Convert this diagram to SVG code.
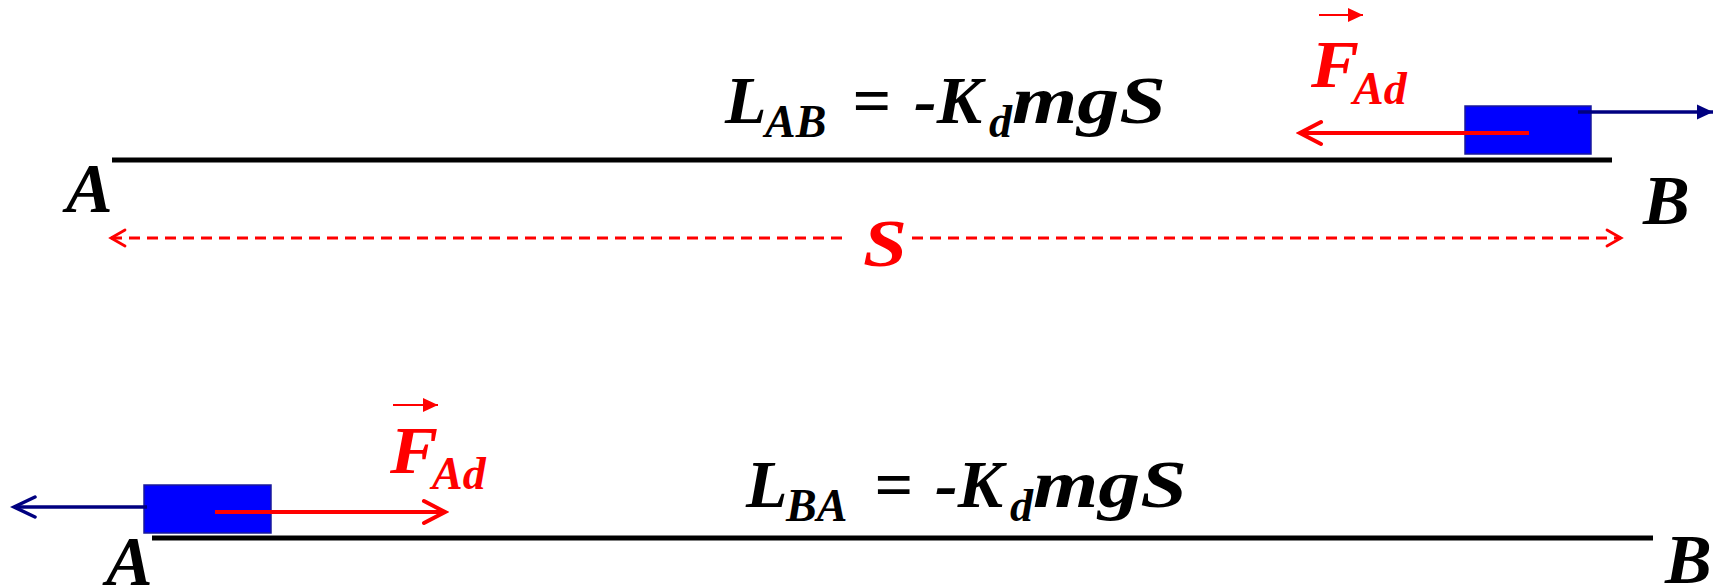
<svg xmlns="http://www.w3.org/2000/svg" width="1728" height="588" viewBox="0 0 1728 588">
<style>
.t{font-family:"Liberation Serif","Times New Roman",serif;font-weight:bold;font-style:italic}
.k{fill:#000}
.r{fill:#FF0000}
.big{font-size:68px}
.sub{font-size:46px}
.lab{font-size:70px}
.road{stroke:#000;stroke-width:5;fill:none}
.block{fill:#0000FF;stroke:#1a1a9a;stroke-width:1.5}
.red{stroke:#FF0000;stroke-width:4;fill:none}
.navy{stroke:#000080;stroke-width:3.5;fill:none}
.dash{stroke:#FF0000;stroke-width:2.8;stroke-dasharray:11 7;fill:none}
.vec{stroke:#FF0000;stroke-width:2;fill:none}
</style>
<defs>
<marker id="redOpen" viewBox="-26 -15 30 30" markerWidth="30" markerHeight="30" refX="0" refY="0" orient="auto" markerUnits="userSpaceOnUse">
<path d="M-21,-11 L0,0 L-21,11" fill="none" stroke="#FF0000" stroke-width="4" stroke-linecap="round"/>
</marker>
<marker id="dashOpen" viewBox="-20 -12 24 24" markerWidth="24" markerHeight="24" refX="0" refY="0" orient="auto" markerUnits="userSpaceOnUse">
<path d="M-14,-8 L0,0 L-14,8" fill="none" stroke="#FF0000" stroke-width="2.8" stroke-linecap="round"/>
</marker>
<marker id="navyFill" viewBox="-18 -10 20 20" markerWidth="20" markerHeight="20" refX="0" refY="0" orient="auto" markerUnits="userSpaceOnUse">
<path d="M-16,-7.5 L0,0 L-16,7.5 Z" fill="#000080"/>
</marker>
<marker id="navyOpen" viewBox="-26 -14 30 28" markerWidth="30" markerHeight="28" refX="0" refY="0" orient="auto" markerUnits="userSpaceOnUse">
<path d="M-21,-10 L0,0 L-21,10" fill="none" stroke="#000080" stroke-width="3.5" stroke-linecap="round"/>
</marker>
<marker id="vecHead" viewBox="-16 -8 18 16" markerWidth="18" markerHeight="16" refX="0" refY="0" orient="auto" markerUnits="userSpaceOnUse">
<path d="M-15,-7 L0,0 L-15,7 Z" fill="#FF0000"/>
</marker>
</defs>

<g id="road-top"><line class="road" x1="112" y1="160" x2="1612" y2="160"/></g>
<g id="label-A-top"><text class="t k lab" x="66" y="212">A</text></g>
<g id="label-B-top"><text class="t k lab" x="1643" y="224">B</text></g>
<g id="formula-top">
<text class="t k big" x="725" y="123">L</text>
<text class="t k sub" x="765" y="137">AB</text>
<text class="t k big" x="852" y="123">=</text>
<text class="t k big" x="914" y="123">-K</text>
<text class="t k sub" x="989" y="137">d</text>
<text class="t k big" x="1012" y="123" textLength="154" lengthAdjust="spacingAndGlyphs">mgS</text>
</g>
<g id="block-top"><rect class="block" x="1465" y="106" width="126" height="48"/></g>
<g id="force-label-top">
<line class="vec" x1="1319" y1="15" x2="1363" y2="15" marker-end="url(#vecHead)"/>
<text class="t r big" x="1311" y="87" textLength="48" lengthAdjust="spacingAndGlyphs">F</text>
<text class="t r sub" x="1353" y="104">Ad</text>
</g>
<g id="label-S"><text class="t r big" x="863" y="266" textLength="44" lengthAdjust="spacingAndGlyphs">S</text></g>

<g id="road-bottom"><line class="road" x1="152" y1="538" x2="1653" y2="538"/></g>
<g id="label-A-bottom"><text class="t k lab" x="106" y="585">A</text></g>
<g id="label-B-bottom"><text class="t k lab" x="1665" y="583">B</text></g>
<g id="formula-bottom">
<text class="t k big" x="746" y="507">L</text>
<text class="t k sub" x="786" y="521">BA</text>
<text class="t k big" x="874" y="507">=</text>
<text class="t k big" x="935" y="507">-K</text>
<text class="t k sub" x="1010" y="521">d</text>
<text class="t k big" x="1033" y="507" textLength="154" lengthAdjust="spacingAndGlyphs">mgS</text>
</g>
<g id="block-bottom"><rect class="block" x="144" y="485" width="127" height="48"/></g>
<g id="force-label-bottom">
<line class="vec" x1="393" y1="405" x2="438" y2="405" marker-end="url(#vecHead)"/>
<text class="t r big" x="390" y="473" textLength="48" lengthAdjust="spacingAndGlyphs">F</text>
<text class="t r sub" x="432" y="489">Ad</text>
</g>

<g id="connectors">
<line class="red" x1="1529" y1="133" x2="1300" y2="133" marker-end="url(#redOpen)"/>
<line class="navy" x1="1578" y1="112" x2="1713" y2="112" marker-end="url(#navyFill)"/>
<line class="dash" x1="842" y1="238" x2="111" y2="238" marker-end="url(#dashOpen)"/>
<line class="dash" x1="912" y1="238" x2="1621" y2="238" marker-end="url(#dashOpen)"/>
<line class="red" x1="215" y1="512" x2="445" y2="512" marker-end="url(#redOpen)"/>
<line class="navy" x1="147" y1="507" x2="14" y2="507" marker-end="url(#navyOpen)"/>
</g>
</svg>
